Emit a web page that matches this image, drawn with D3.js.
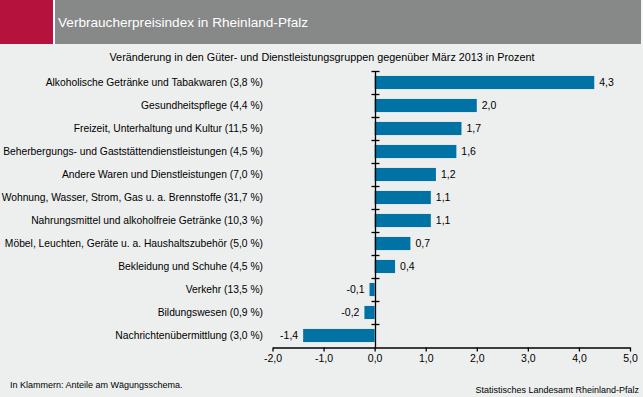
<!DOCTYPE html>
<html><head><meta charset="utf-8">
<script src="https://cdn.jsdelivr.net/npm/d3@7"></script>
<style>
html,body{margin:0;padding:0;background:#fff;}
svg{display:block;font-family:"Liberation Sans",Arial,sans-serif;}
</style></head>
<body>
<svg id="c" width="643" height="397"></svg>
<script>
const title = "Verbraucherpreisindex in Rheinland-Pfalz";
const subtitle = "Veränderung in den Güter- und Dienstleistungsgruppen gegenüber März 2013 in Prozent";
const categories = [
  "Alkoholische Getränke und Tabakwaren (3,8 %)",
  "Gesundheitspflege (4,4 %)",
  "Freizeit, Unterhaltung und Kultur (11,5 %)",
  "Beherbergungs- und Gaststättendienstleistungen (4,5 %)",
  "Andere Waren und Dienstleistungen (7,0 %)",
  "Wohnung, Wasser, Strom, Gas u. a. Brennstoffe (31,7 %)",
  "Nahrungsmittel und alkoholfreie Getränke (10,3 %)",
  "Möbel, Leuchten, Geräte u. a. Haushaltszubehör  (5,0 %)",
  "Bekleidung und Schuhe (4,5 %)",
  "Verkehr (13,5 %)",
  "Bildungswesen (0,9 %)",
  "Nachrichtenübermittlung (3,0 %)"
];
const values = [4.3, 2.0, 1.7, 1.6, 1.2, 1.1, 1.1, 0.7, 0.4, -0.1, -0.2, -1.4];
const xTicks = [-2, -1, 0, 1, 2, 3, 4, 5];
const footnote = "In Klammern: Anteile am Wägungsschema.";
const source = "Statistisches Landesamt Rheinland-Pfalz";

const loc = d3.formatLocale({decimal: ",", thousands: ".", grouping: [3], currency: ["", " €"], minus: "-"});
const fmt = loc.format(".1f");

const svg = d3.select("#c");
svg.append("rect").attr("width", 643).attr("height", 397).attr("fill", "#edefee");

// header
svg.append("rect").attr("x", 0).attr("y", 0).attr("width", 53).attr("height", 44).attr("fill", "#b5123e");
svg.append("rect").attr("x", 53).attr("y", 0).attr("width", 2).attr("height", 44).attr("fill", "#ffffff");
svg.append("rect").attr("x", 55).attr("y", 0).attr("width", 586).attr("height", 44).attr("fill", "#878888");
svg.append("rect").attr("x", 641).attr("y", 0).attr("width", 2).attr("height", 44).attr("fill", "#f4f5f5");
svg.append("text").attr("x", 58).attr("y", 27).attr("fill", "#ffffff")
  .attr("font-size", "13.6px").text(title);

svg.append("text").attr("x", 322).attr("y", 61).attr("text-anchor", "middle")
  .attr("font-size", "10.8px").attr("fill", "#000").text(subtitle);

const x = d3.scaleLinear().domain([-2, 5]).range([272.5, 630]);
const y = d3.scaleBand().domain(categories).range([71, 347]).padding(0);
const bw = y.bandwidth();
const barH = bw * 0.57;

const data = categories.map((c, i) => ({c, v: values[i]}));

// bars
svg.append("g").selectAll("rect").data(data).join("rect")
  .attr("x", d => x(Math.min(0, d.v)))
  .attr("y", d => y(d.c) + (bw - barH) / 2)
  .attr("width", d => Math.abs(x(d.v) - x(0)))
  .attr("height", barH)
  .attr("fill", "#0072a3");

// value labels
svg.append("g").selectAll("text").data(data).join("text")
  .attr("x", d => d.v >= 0 ? x(d.v) + 5 : x(d.v) - 5)
  .attr("y", d => y(d.c) + bw / 2)
  .attr("dy", "0.35em")
  .attr("text-anchor", d => d.v >= 0 ? "start" : "end")
  .attr("font-size", "10.5px").attr("fill", "#000")
  .text(d => fmt(d.v));

// category labels
svg.append("g").selectAll("text").data(data).join("text")
  .attr("x", 263)
  .attr("y", d => y(d.c) + bw / 2)
  .attr("dy", "0.35em")
  .attr("text-anchor", "end")
  .attr("font-size", "10.3px").attr("fill", "#000")
  .text(d => d.c);

// x axis
const xAxis = svg.append("g").attr("transform", "translate(0,347.5)")
  .call(d3.axisBottom(x).tickValues(xTicks).tickFormat(fmt).tickSize(4).tickSizeOuter(0));
xAxis.select(".domain").attr("stroke", "#000").attr("stroke-width", 1.3);
xAxis.selectAll(".tick line").attr("stroke", "#000").attr("stroke-width", 1.3);
xAxis.selectAll(".tick text").attr("font-family", "Liberation Sans, Arial, sans-serif")
  .attr("font-size", "10.5px").attr("fill", "#000").attr("y", 7);

// zero category axis
const x0 = Math.round(x(0)) + 0.5;
const yAxis = svg.append("g");
yAxis.append("line").attr("x1", x0).attr("x2", x0).attr("y1", 71).attr("y2", 347.5)
  .attr("stroke", "#000").attr("stroke-width", 1.3);
yAxis.selectAll("line.t").data(categories).join("line").attr("class", "t")
  .attr("x1", x0 - 4).attr("x2", x0 + 4)
  .attr("y1", d => Math.round(y(d)) + 0.5).attr("y2", d => Math.round(y(d)) + 0.5)
  .attr("stroke", "#000").attr("stroke-width", 1.3);

svg.append("text").attr("x", 10).attr("y", 388).attr("font-size", "9px").attr("fill", "#000").text(footnote);
svg.append("text").attr("x", 639).attr("y", 393).attr("text-anchor", "end").attr("font-size", "9px").attr("fill", "#000").text(source);
</script>
</body></html>
